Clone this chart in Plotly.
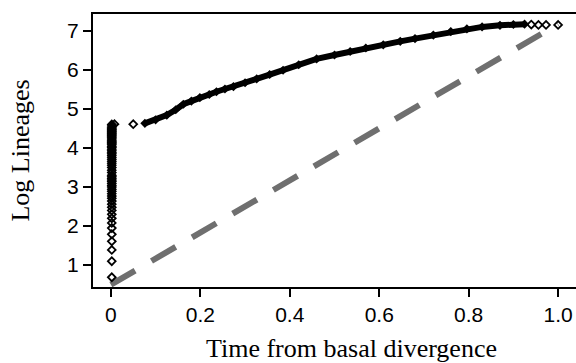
import plotly.graph_objects as go

# Early burst: lineages accumulated at time ~0 (log scale values)
burst_x = [0.002] * 60
burst_y = [0.69, 1.10, 1.39, 1.61, 1.79, 1.95, 2.08, 2.20, 2.30, 2.40, 2.48, 2.56,
           2.64, 2.71, 2.77, 2.83, 2.89, 2.94, 3.00, 3.04, 3.09, 3.14, 3.18, 3.22,
           3.26, 3.30, 3.37, 3.43, 3.50, 3.56, 3.61, 3.66, 3.71, 3.76, 3.81, 3.85,
           3.89, 3.93, 3.97, 4.01, 4.04, 4.08, 4.11, 4.14, 4.17, 4.20, 4.23, 4.26,
           4.29, 4.32, 4.34, 4.37, 4.39, 4.42, 4.44, 4.47, 4.49, 4.52, 4.56, 4.60]

# Isolated points
iso_x = [0.008, 0.050, 0.940, 0.956, 0.973, 1.000]
iso_y = [4.61, 4.61, 7.16, 7.15, 7.15, 7.15]

# Dense curve (read along band centre)
curve_x = [0.076, 0.10, 0.125, 0.145, 0.162, 0.18, 0.199, 0.22, 0.236, 0.255, 0.274,
           0.30, 0.326, 0.355, 0.385, 0.42, 0.46, 0.50, 0.535, 0.57, 0.609, 0.647,
           0.68, 0.721, 0.76, 0.796, 0.83, 0.87, 0.90, 0.925]
curve_y = [4.63, 4.72, 4.84, 4.98, 5.12, 5.20, 5.29, 5.37, 5.44, 5.51, 5.57,
           5.67, 5.77, 5.88, 5.99, 6.13, 6.28, 6.38, 6.47, 6.56, 6.64, 6.73,
           6.80, 6.89, 6.98, 7.05, 7.10, 7.14, 7.16, 7.17]

# Expected (constant-rate) reference line
ref_x = [0.0, 1.0]
ref_y = [0.50, 7.17]

fig = go.Figure()
fig.add_trace(go.Scatter(x=ref_x, y=ref_y, mode="lines",
                         line=dict(color="#6f6f6f", width=6, dash="28px,19px"),
                         hoverinfo="skip"))
fig.add_trace(go.Scatter(x=curve_x, y=curve_y, mode="lines+markers",
                         line=dict(color="black", width=6),
                         marker=dict(symbol="diamond", size=7, color="black")))
fig.add_trace(go.Scatter(x=burst_x + iso_x, y=burst_y + iso_y, mode="markers",
                         marker=dict(symbol="diamond-open", size=6, color="black",
                                     line=dict(width=1.8, color="black"))))

fig.update_layout(
    width=576, height=363,
    margin=dict(l=93, r=0, t=14, b=76),
    paper_bgcolor="white", plot_bgcolor="white",
    showlegend=False,
    font=dict(family="Liberation Sans, Arial", color="black", size=21),
    annotations=[dict(
        text="Time from basal divergence", xref="paper", yref="paper",
        x=0.535, y=-0.225, xanchor="center", yanchor="middle", showarrow=False,
        font=dict(family="Liberation Serif, Times New Roman", size=26),
    )],
)
fig.update_xaxes(
    range=[-0.04, 1.04], tickvals=[0, 0.2, 0.4, 0.6, 0.8, 1.0],
    ticktext=["0", "0.2", "0.4", "0.6", "0.8", "1.0"],
    showline=True, linecolor="black", linewidth=2, mirror=True,
    ticks="outside", ticklen=8, tickwidth=1.5, tickcolor="black",
    showgrid=False, zeroline=False, automargin=False,
)
fig.update_yaxes(
    range=[0.44, 7.43], tickvals=[1, 2, 3, 4, 5, 6, 7],
    showline=True, linecolor="black", linewidth=2, mirror=False,
    ticks="outside", ticklen=8, tickwidth=1.5, tickcolor="black",
    showgrid=False, zeroline=False, automargin=False,
    title=dict(text="Log Lineages",
               font=dict(family="Liberation Serif, Times New Roman", size=26),
               standoff=30),
)

fig.write_html(
    "out.html",
    config={"displayModeBar": False},
    post_script="document.body.style.margin='0';document.body.style.overflow='hidden';",
)
